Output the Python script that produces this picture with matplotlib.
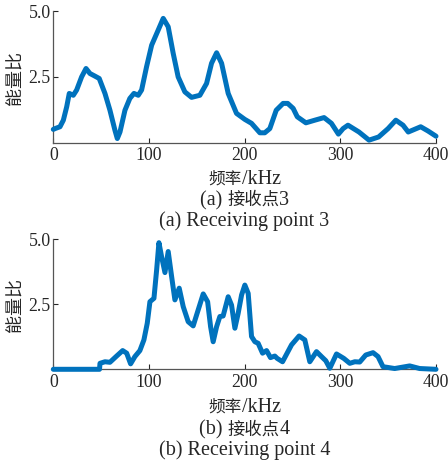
import matplotlib
matplotlib.use("Agg")
import matplotlib.pyplot as plt

LATIN = "Liberation Serif"
CJK = "Noto Sans CJK SC"
plt.rcParams['font.family'] = [LATIN, CJK]

# receiving point 3 (frequency in kHz, energy ratio)
freq_3 = [0, 1.8, 7, 10.5, 14, 16.7, 20.9, 24.4, 29.6, 34.2, 38.3, 43.5, 48, 54, 59.2, 64.4,
          66.9, 69.7, 74.9, 80, 84.3, 88.8, 92.3, 97.5, 102.8, 109.7, 114.9, 120.1, 125.3,
          130.5, 137.5, 144.5, 153.2, 160.2, 165.4, 170.7, 175.9, 182.8, 191.5, 200.2, 207.2,
          215.9, 221, 226.3, 233, 240.2, 245, 250.7, 255, 264, 273.3, 283, 290.7, 298, 302.9,
          308, 319.5, 330, 340, 349.9, 358, 365.5, 371, 384, 391.6, 400]
ratio_3 = [0.50, 0.53, 0.60, 0.85, 1.36, 1.87, 1.80, 2.00, 2.50, 2.82, 2.63, 2.53, 2.44, 1.87,
           1.23, 0.47, 0.15, 0.40, 1.23, 1.68, 1.87, 1.80, 2.00, 2.89, 3.71, 4.29, 4.73, 4.41,
           3.40, 2.50, 1.93, 1.72, 1.80, 2.25, 3.02, 3.42, 3.02, 1.87, 1.11, 0.88, 0.73, 0.37,
           0.37, 0.53, 1.23, 1.49, 1.49, 1.30, 0.98, 0.75, 0.85, 0.95, 0.73, 0.32, 0.53, 0.66,
           0.40, 0.09, 0.21, 0.53, 0.85, 0.66, 0.40, 0.60, 0.44, 0.24]

# receiving point 4
freq_4 = [0, 48.3, 48.8, 54, 59.2, 66.2, 72.5, 76.7, 80.8, 85.3, 90.5, 94.7, 98.2, 101, 105.2,
          108, 110.4, 113.2, 116.7, 120.1, 123.7, 127.1, 131.6, 135.8, 141, 146.2, 151.4,
          156.7, 161.3, 164.4, 167.1, 170.7, 174.1, 177.5, 182.8, 186.3, 189.8, 193.2, 196.8,
          200.2, 203.7, 207.2, 210.7, 214.1, 218.7, 222.9, 227, 231.5, 234, 239.6, 249, 256.9,
          262.9, 268.1, 275.1, 280.3, 284.8, 289, 296, 303.6, 309.9, 315.1, 320.3, 326.6,
          334.2, 339.4, 344.6, 356.8, 372.5, 382.9, 400]
ratio_4 = [0, 0, 0.23, 0.29, 0.27, 0.51, 0.72, 0.62, 0.21, 0.49, 0.72, 1.13, 1.77, 2.60, 2.73,
           3.82, 4.87, 4.33, 3.72, 4.53, 3.56, 2.67, 3.12, 2.41, 1.83, 1.67, 2.28, 2.90, 2.60,
           1.64, 1.06, 1.64, 2.03, 2.05, 2.79, 2.47, 1.58, 2.15, 2.86, 3.24, 2.92, 1.26, 1.06,
           1.00, 0.62, 0.72, 0.45, 0.51, 0.42, 0.29, 0.94, 1.28, 1.13, 0.29, 0.68, 0.49, 0.33,
           0.04, 0.59, 0.42, 0.23, 0.29, 0.28, 0.55, 0.64, 0.49, 0.10, 0.03, 0.13, 0.03, 0.0]

x_ticks = [0, 100, 200, 300, 400]
y_ticks = [2.5, 5.0]
y_tick_labels = ["2.5", "5.0"]

LINE = "#0072BD"
INK = "#262626"
W, H = 448, 463

fig = plt.figure(figsize=(W / 100, H / 100), dpi=100)
ax_top = fig.add_axes([53.3 / W, 1 - 142.5 / H, 382.7 / W, 131.2 / H])
ax_bot = fig.add_axes([53.3 / W, 1 - 369.3 / H, 382.7 / W, 130.0 / H])

for ax, xs, ys in [(ax_top, freq_3, ratio_3), (ax_bot, freq_4, ratio_4)]:
    ax.plot(xs, ys, color=LINE, lw=3.6, solid_joinstyle="round", solid_capstyle="round",
            clip_on=False, zorder=3)
    ax.set_xlim(0, 400)
    ax.set_ylim(0, 5.0)
    ax.set_xticks(x_ticks)
    ax.set_yticks(y_ticks)
    ax.set_yticklabels(y_tick_labels)
    ax.tick_params(direction="in", length=3.5, width=0.8, labelsize=12.8,
                   colors=INK)
    ax.tick_params(axis="x", pad=3.5)
    ax.tick_params(axis="y", pad=2)
    for s in ("top", "right"):
        ax.spines[s].set_visible(False)
    for s in ("left", "bottom"):
        ax.spines[s].set_color("#555555")
        ax.spines[s].set_linewidth(0.9)

renderer = fig.canvas.get_renderer()


def mixed_text(cx_px, base_px, parts):
    # parts: list of (string, family, size); laid out left to right, centred on cx_px
    texts = []
    widths = []
    for s, fam, size in parts:
        t = fig.text(0, 0, s, family=fam, fontsize=size, color=INK, ha="left",
                     va="baseline")
        texts.append(t)
        widths.append(t.get_window_extent(renderer).width)
    x = cx_px - sum(widths) / 2
    for t, w in zip(texts, widths):
        t.set_position((x / W, 1 - base_px / H))
        x += w


cx = 244.5
for base, parts in [
    (183.5, [("频率", CJK, 12), ("/kHz", LATIN, 14.5)]),
    (205, [("(a) ", LATIN, 14.5), ("接收点", CJK, 12.5), ("3", LATIN, 14.5)]),
    (226, [("(a) Receiving point 3", LATIN, 14.5)]),
    (411.5, [("频率", CJK, 12), ("/kHz", LATIN, 14.5)]),
    (434.5, [("(b) ", LATIN, 14.5), ("接收点", CJK, 12.5), ("4", LATIN, 14.5)]),
    (455.5, [("(b) Receiving point 4", LATIN, 14.5)]),
]:
    mixed_text(cx, base, parts)

for yc in (78, 305):
    fig.text(15.5 / W, 1 - yc / H, "能量比", family=CJK, fontsize=13, color=INK,
             rotation=90, ha="center", va="center")

fig.savefig("out.png", dpi=100, facecolor="white")
